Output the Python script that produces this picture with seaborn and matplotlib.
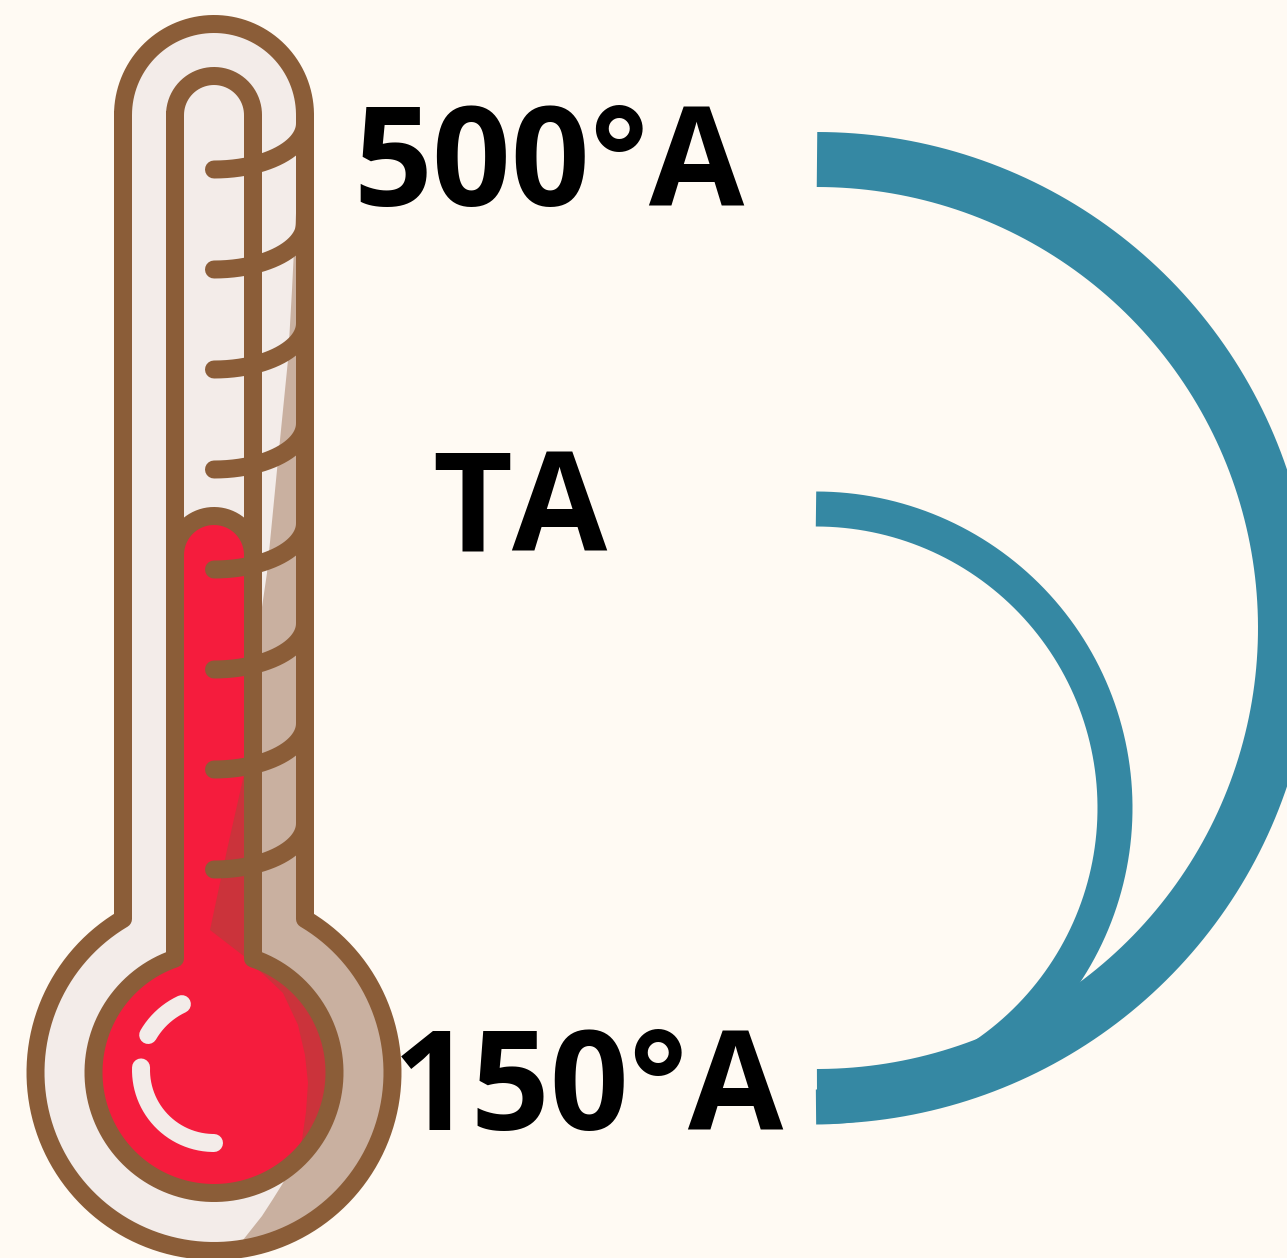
import numpy as np
import matplotlib
matplotlib.use("Agg")
import matplotlib.pyplot as plt
from matplotlib.patches import Polygon
import seaborn as sns

# ---- content ----
labels = ["500°A", "TA", "150°A"]
n_ticks = 8

BG = "#FFFAF3"
BROWN = "#8B5D38"
PALE = "#F3ECE9"
SHADE = "#C9B0A0"
RED = "#F51C3D"
DARKRED = "#CB333B"
BLUE = "#3588A3"

sns.set_theme(style="white")
plt.rcParams["font.family"] = ["Open Sans", "DejaVu Sans"]
plt.rcParams["text.kerning_factor"] = 6

fig = plt.figure(figsize=(12.87, 12.58), dpi=100, facecolor=BG)
ax = fig.add_axes([0, 0, 1, 1])
PX = 72 / 100


def arc(cx, cy, rx, ry, a0, a1, n=200):
    t = np.radians(np.linspace(a0, a1, n))
    return cx + rx * np.cos(t), cy + ry * np.sin(t)


def stroke(x, y, color, w, cap="round", z=5):
    sns.lineplot(x=x, y=y, sort=False, estimator=None, errorbar=None, color=color,
                 linewidth=w * PX, solid_capstyle=cap, solid_joinstyle="round",
                 legend=False, zorder=z, ax=ax)


def bulb_shape(x_half, top_y, top_r, bulb_r, cx=214, cy=1072.5):
    ang = np.degrees(np.arctan2(-np.sqrt(bulb_r**2 - x_half**2), x_half))
    tx, ty = arc(cx, top_y, top_r, top_r, 180, 360)
    bx, by = arc(cx, cy, bulb_r, bulb_r, ang, 180 - ang, 400)
    return np.r_[tx, bx], np.r_[ty, by]


ox, oy = bulb_shape(91, 115, 91, 178.5)
ix, iy = bulb_shape(39, 115, 39, 120.5)
rx_, ry_ = bulb_shape(39, 555, 39, 120.5)

outer_fill = Polygon(np.c_[ox, oy], closed=True, fc=PALE, ec="none", zorder=2)
ax.add_patch(outer_fill)

shade_pts = np.array([
    (296.5, 205), (295, 230), (292, 290), (288, 360), (277, 470), (267, 573), (262, 607),
    (245, 770), (227, 850), (210, 930), (245, 957), (283, 993), (298, 1025), (305, 1055),
    (308, 1083), (306, 1112), (302, 1140), (294, 1163), (283, 1183), (273, 1199), (262, 1216),
    (243, 1240), (243, 1258), (420, 1258), (420, 205)])
shade = Polygon(shade_pts, closed=True, fc=SHADE, ec="none", zorder=3)
ax.add_patch(shade)
shade.set_clip_path(outer_fill)

# mercury
red_fill = Polygon(np.c_[rx_, ry_], closed=True, fc=RED, ec="none", zorder=4)
ax.add_patch(red_fill)
dark = Polygon(shade_pts, closed=True, fc=DARKRED, ec="none", zorder=4.5)
ax.add_patch(dark)
dark.set_clip_path(red_fill)

# mercury cap and walls
cx_, cy_ = arc(214, 555, 39, 39, 180, 360)
stroke(cx_, cy_, BROWN, 18, z=5)
stroke(np.r_[ix, ix[0]], np.r_[iy, iy[0]], BROWN, 18, z=5)

# graduation marks
for k in range(n_ticks):
    y0 = 169.5 + 100 * k
    tx, ty = arc(214, y0 - 46, 91, 46, 90, 0)
    stroke(tx, ty, BROWN, 18, z=6)

stroke(np.r_[ox, ox[0]], np.r_[oy, oy[0]], BROWN, 18, z=7)

# highlights
hx, hy = arc(214, 1070, 73, 73, 182, 90)
stroke(hx, hy, PALE, 18, z=8)
hx, hy = arc(214, 1073, 76, 76, 210, 245)
stroke(hx, hy, PALE, 18, z=8)

# arcs
ax_, ay_ = arc(817, 628, 468.5, 468.5, -90, 90, 500)
stroke(ax_, ay_, BLUE, 55, cap="butt", z=2)
bx_, by_ = arc(816, 808, 299, 299, -90, 90, 500)
stroke(bx_, by_, BLUE, 35, cap="butt", z=2)

# labels
size = 99.5
ax.text(353, 206, labels[0], fontsize=size, fontweight="bold", color="black", ha="left", va="baseline", zorder=1)
ax.text(432, 551.5, labels[1], fontsize=size, fontweight="bold", color="black", ha="left", va="baseline", zorder=1)
ax.text(393, 1130, labels[2], fontsize=size, fontweight="bold", color="black", ha="left", va="baseline", zorder=1)

ax.set_xlim(0, 1287)
ax.set_ylim(1258, 0)
ax.axis("off")
fig.savefig("out.png", dpi=100, facecolor=BG)
